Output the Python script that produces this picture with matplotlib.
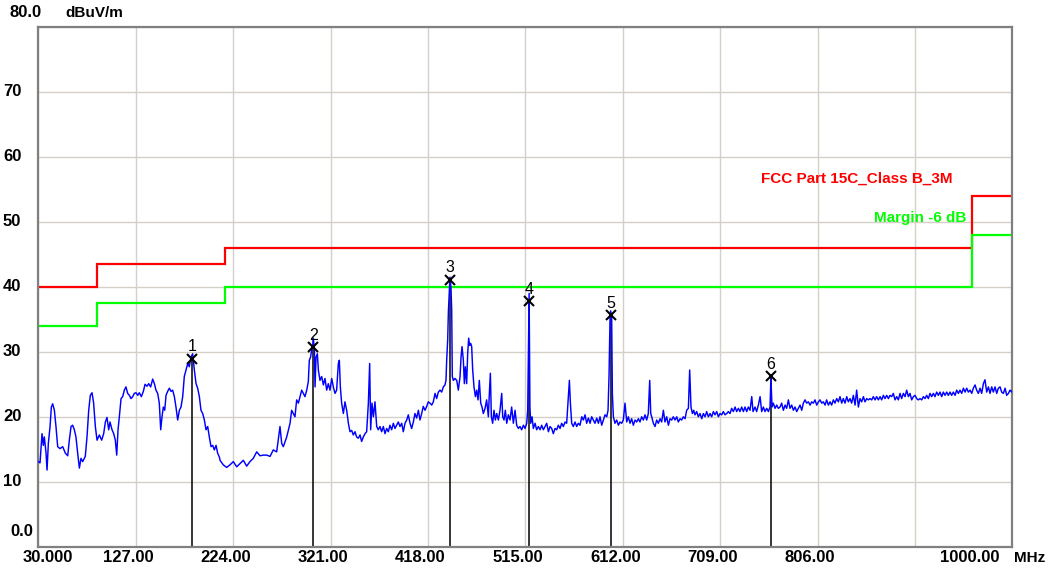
import numpy as np
import matplotlib
matplotlib.use("Agg")
import matplotlib.pyplot as plt

# ---------------------------------------------------------------
#  Radiated emission sweep, 30 MHz - 1 GHz (peak detector)
# ---------------------------------------------------------------
sweep_mhz = [
    30.0, 31.7, 33.7, 35.0, 36.0, 37.7, 38.7, 40.0, 41.7, 43.0, 44.3, 46.0, 47.6, 49.3,
    51.6, 54.3, 56.9, 59.3, 60.9, 62.6, 64.2, 65.9, 67.5, 69.2, 70.9, 72.5, 74.2, 76.8,
    78.5, 80.2, 81.8, 83.5, 85.1, 86.8, 88.5, 90.8, 93.1, 95.1, 96.8, 98.4, 100.1, 101.4,
    103.4, 105.1, 106.7, 108.1, 109.4, 110.7, 112.4, 114.0, 115.7, 117.3, 119.0, 120.7,
    122.3, 124.0, 125.6, 127.3, 129.0, 130.6, 132.6, 134.6, 136.3, 138.3, 139.9, 141.9,
    143.9, 145.6, 147.2, 148.9, 150.5, 151.9, 153.2, 154.5, 155.9, 157.2, 158.8, 160.5,
    162.2, 163.8, 165.5, 167.1, 168.8, 170.5, 172.1, 173.8, 175.4, 177.1, 178.8, 180.4,
    182.1, 183.7, 185.4, 187.1, 188.7, 190.4, 192.0, 193.7, 195.4, 197.0, 198.7, 200.3,
    202.0, 203.7, 205.3, 207.0, 208.6, 210.3, 211.0, 214.2, 217.6, 220.9, 224.2, 227.6,
    230.9, 234.2, 237.5, 240.8, 244.1, 247.5, 250.8, 254.1, 257.5, 260.8, 264.0, 267.4,
    270.7, 272.4, 274.0, 277.4, 280.7, 282.3, 285.6, 287.3, 289.0, 290.6, 292.3, 293.9,
    295.6, 297.3, 298.9, 299.9, 301.2, 302.2, 303.2, 303.9, 304.9, 305.6, 306.6, 307.9,
    308.9, 310.5, 312.2, 313.9, 315.5, 317.2, 318.8, 320.5, 322.2, 323.8, 325.5, 327.1,
    328.8, 329.8, 330.8, 332.1, 333.8, 335.4, 337.1, 338.8, 340.4, 342.1, 343.7, 345.4,
    347.0, 348.7, 350.4, 352.0, 353.7, 355.4, 357.0, 358.7, 360.0, 361.0, 362.3, 363.7,
    365.3, 367.0, 368.6, 370.3, 371.9, 373.6, 375.3, 376.9, 378.6, 380.2, 381.9, 383.6,
    385.2, 386.9, 388.5, 390.2, 391.9, 393.5, 395.2, 396.9, 398.5, 400.2, 401.8, 403.5,
    405.1, 406.8, 408.5, 410.1, 411.8, 413.4, 415.1, 416.8, 418.4, 420.1, 421.8, 423.4,
    425.1, 426.7, 428.4, 430.1, 431.7, 433.4, 435.0, 436.0, 436.7, 437.7, 438.4, 439.4,
    440.0, 441.0, 441.7, 442.3, 443.3, 445.0, 446.7, 448.3, 450.0, 451.0, 452.0, 453.3,
    454.3, 455.3, 456.6, 457.6, 458.6, 459.6, 460.6, 461.6, 462.6, 463.9, 465.3, 466.6,
    467.9, 469.2, 470.6, 471.9, 473.2, 474.9, 476.5, 478.2, 479.2, 480.2, 481.2, 482.5,
    483.8, 485.2, 486.5, 488.2, 489.8, 491.5, 492.5, 493.8, 495.1, 496.5, 498.1, 499.8,
    501.4, 503.1, 504.8, 506.4, 508.1, 509.7, 511.4, 513.1, 514.7, 516.4, 517.4, 518.8,
    519.6, 520.4, 521.7, 523.0, 524.7, 526.3, 528.0, 529.7, 531.3, 533.0, 534.6, 536.3,
    538.0, 539.6, 541.3, 542.9, 544.6, 546.3, 547.9, 549.6, 551.2, 552.9, 554.6, 556.2,
    557.5, 558.9, 559.9, 561.2, 562.8, 564.5, 566.2, 567.8, 569.5, 571.2, 572.8, 574.5,
    576.1, 577.8, 579.5, 581.1, 582.8, 584.4, 586.1, 587.8, 589.4, 591.1, 592.7, 594.4,
    596.1, 597.4, 598.4, 599.4, 600.0, 601.0, 601.7, 602.7, 604.3, 606.0, 607.7, 609.3,
    611.0, 612.6, 614.3, 616.0, 617.6, 619.3, 620.9, 622.6, 624.3, 625.9, 627.6, 629.2,
    630.9, 632.6, 634.2, 635.9, 637.5, 638.9, 639.9, 640.9, 642.5, 644.2, 645.8, 647.5,
    649.2, 650.8, 652.5, 654.1, 655.8, 657.5, 659.1, 660.8, 662.4, 664.1, 665.8, 667.4,
    669.1, 670.7, 672.4, 674.1, 675.7, 677.4, 678.7, 680.0, 681.4, 682.7, 684.0, 685.7,
    687.3, 689.0, 690.7, 692.3, 694.0, 695.6, 697.3, 699.0, 700.6, 702.3, 703.9, 705.6,
    707.3, 708.9, 710.6, 712.2, 713.9, 715.6, 717.2, 718.9, 720.5, 722.2, 723.9, 725.5,
    727.2, 728.8, 730.5, 732.2, 733.8, 735.5, 737.1, 738.8, 740.5, 741.8, 743.8, 745.4,
    747.1, 748.8, 750.4, 752.1, 753.7, 755.4, 757.1, 758.7, 759.6, 760.7, 762.0, 763.7,
    765.4, 767.0, 768.7, 770.3, 772.0, 773.7, 775.3, 777.0, 778.6, 780.3, 782.0, 783.6,
    785.3, 786.9, 788.6, 790.3, 791.9, 793.6, 795.2, 796.9, 798.6, 800.2, 801.9, 803.5,
    805.2, 806.9, 808.5, 810.2, 811.8, 813.5, 815.1, 816.8, 818.5, 820.1, 821.8, 823.4,
    825.1, 826.8, 828.4, 830.1, 831.7, 833.4, 835.1, 836.7, 838.4, 840.0, 841.7, 843.4,
    845.0, 846.7, 848.3, 850.0, 851.7, 853.3, 855.0, 856.6, 858.3, 860.0, 861.6, 863.3,
    864.9, 866.6, 868.3, 869.9, 871.6, 873.2, 874.9, 876.6, 878.2, 879.9, 881.5, 883.2,
    884.9, 886.5, 888.2, 889.8, 891.5, 893.2, 894.8, 896.5, 898.1, 899.8, 901.5, 903.1,
    904.8, 906.4, 908.1, 909.8, 911.4, 913.1, 914.7, 916.4, 918.1, 919.7, 921.4, 923.0,
    924.7, 926.4, 928.0, 929.7, 931.3, 933.0, 934.7, 936.3, 938.0, 939.6, 941.3, 943.0,
    944.6, 946.3, 947.9, 949.6, 951.3, 952.9, 954.6, 956.2, 957.9, 959.6, 961.2, 962.9,
    964.5, 966.2, 967.9, 969.5, 971.2, 972.8, 974.5, 976.2, 977.8, 979.5, 981.1, 982.8,
    984.5, 986.1, 987.8, 989.4, 991.1, 992.8, 994.4, 996.1, 997.7, 999.4, 1000.0,
]
level_dbuv = [
    13.1, 12.9, 17.4, 15.6, 16.9, 14.4, 11.8, 15.9, 18.5, 21.5, 22.0, 21.0, 18.5, 15.4,
    15.1, 15.4, 14.4, 14.0, 16.4, 18.5, 18.7, 18.0, 16.9, 14.4, 12.1, 13.6, 13.1, 13.9,
    16.9, 21.0, 23.3, 23.7, 22.1, 18.5, 16.4, 17.2, 16.4, 17.4, 19.2, 19.9, 18.0, 19.2,
    18.0, 17.4, 16.4, 14.1, 18.0, 20.0, 22.8, 23.1, 24.1, 24.6, 23.6, 23.3,
    22.8, 23.1, 23.6, 23.7, 23.3, 23.7, 23.1, 23.9, 25.0, 24.7, 25.1, 24.6,
    25.8, 25.1, 24.1, 23.6, 22.1, 18.0, 20.0, 21.5, 21.0, 23.3, 23.9, 24.4,
    23.9, 24.1, 23.1, 21.5, 19.5, 21.0, 21.5, 23.1, 26.2, 27.2, 28.2, 27.7,
    29.2, 29.7, 27.2, 25.1, 24.4, 23.1, 21.0, 20.5, 19.5, 18.0, 18.5, 16.9,
    15.4, 15.6, 14.9, 15.6, 14.4, 13.8, 13.3, 12.6, 12.2, 12.6, 13.1, 12.3,
    12.8, 13.3, 12.4, 13.1, 13.6, 14.6, 14.0, 14.1, 14.1, 13.9, 14.9, 14.6,
    18.5, 15.9, 15.4, 16.9, 19.0, 21.0, 20.0, 22.6, 22.1, 23.1, 24.1, 23.6,
    23.1, 24.1, 25.4, 28.7, 29.2, 30.3, 30.8, 32.1, 30.3, 24.6, 29.2, 29.7,
    27.2, 25.6, 26.2, 24.9, 25.9, 24.1, 25.1, 24.1, 25.9, 24.6, 23.6, 24.1,
    28.2, 28.7, 24.6, 22.1, 20.5, 22.3, 21.0, 19.0, 17.7, 17.9, 17.2, 17.7,
    16.9, 16.7, 17.2, 16.2, 16.9, 17.4, 17.7, 22.1, 28.2, 18.0, 22.1, 20.0,
    22.3, 18.5, 18.0, 18.5, 17.7, 18.5, 17.4, 18.2, 17.7, 18.7, 18.0, 19.0,
    18.2, 18.7, 19.2, 18.5, 19.0, 17.7, 19.0, 19.5, 20.3, 19.0, 18.2, 19.2,
    20.5, 19.8, 21.0, 19.5, 20.5, 21.6, 21.0, 21.6, 22.3, 22.1, 21.8, 22.3,
    23.6, 22.8, 23.8, 24.1, 23.8, 24.6, 24.9, 25.6, 28.7, 31.8, 36.2, 39.5,
    41.5, 39.8, 36.4, 26.2, 25.6, 25.9, 25.6, 24.1, 26.2, 29.2, 30.8, 28.7,
    25.1, 27.7, 25.1, 29.7, 32.1, 31.0, 31.3, 30.8, 27.2, 24.6, 23.1, 24.1,
    22.6, 25.6, 22.1, 21.5, 20.5, 21.3, 22.6, 20.0, 23.6, 26.7, 20.0, 19.0,
    21.0, 19.5, 20.5, 19.5, 21.0, 23.6, 20.0, 19.5, 21.0, 19.0, 20.3, 19.5,
    21.5, 19.0, 21.0, 18.7, 18.2, 18.5, 18.0, 18.7, 18.2, 19.0, 21.0, 39.0,
    21.5, 19.0, 20.0, 18.2, 19.0, 18.0, 18.5, 18.0, 18.7, 18.0, 18.5, 19.0,
    17.7, 18.5, 18.2, 17.4, 18.2, 18.0, 18.7, 18.2, 19.0, 18.5, 19.2, 19.0,
    22.1, 25.6, 22.1, 19.0, 18.5, 19.2, 18.5, 19.0, 18.7, 20.0, 19.5, 20.3,
    19.0, 19.8, 19.0, 20.0, 19.5, 19.0, 19.8, 19.0, 20.0, 18.7, 19.5, 20.3,
    20.0, 21.0, 26.4, 35.4, 36.3, 35.4, 23.6, 20.0, 19.0, 19.5, 18.7, 19.2,
    19.0, 19.5, 22.1, 19.2, 20.0, 19.0, 19.7, 18.7, 19.5, 19.2, 19.7, 19.2,
    20.0, 19.5, 20.3, 19.5, 20.5, 25.6, 20.5, 20.0, 19.0, 18.5, 19.5, 19.0,
    19.7, 19.2, 21.0, 19.2, 20.0, 18.7, 19.7, 19.5, 20.0, 19.5, 20.0, 19.2,
    19.7, 19.5, 20.0, 19.7, 21.0, 21.3, 27.2, 21.5, 20.5, 21.0, 20.3, 20.8,
    20.0, 20.5, 19.7, 20.5, 20.0, 20.8, 20.0, 20.5, 20.0, 20.8, 20.3, 20.8,
    20.0, 20.5, 20.3, 20.8, 20.3, 20.5, 20.8, 20.5, 21.3, 20.8, 21.5, 20.8,
    21.3, 20.8, 21.5, 20.8, 21.5, 20.8, 21.5, 21.0, 23.1, 20.8, 21.5, 20.8,
    21.8, 23.1, 20.8, 21.5, 20.8, 21.3, 20.8, 21.5, 26.0, 21.5, 22.1, 21.3,
    21.8, 21.3, 21.5, 22.1, 21.0, 21.8, 21.3, 22.6, 21.3, 21.8, 21.0, 21.5,
    20.8, 21.3, 21.8, 21.0, 22.1, 22.6, 22.1, 22.3, 21.8, 22.3, 22.1, 22.6,
    21.8, 22.3, 22.6, 22.1, 22.3, 21.8, 22.6, 21.8, 22.3, 21.8, 22.6, 22.1,
    22.8, 22.3, 23.1, 22.1, 22.8, 22.1, 23.1, 22.3, 22.8, 22.1, 23.3, 21.8,
    24.1, 21.5, 22.8, 22.3, 23.1, 22.3, 22.8, 22.6, 22.8, 22.6, 23.1, 22.6,
    23.1, 22.6, 23.1, 22.6, 23.3, 22.8, 23.3, 22.8, 23.3, 23.1, 23.6, 22.6,
    23.1, 22.6, 23.6, 22.8, 23.6, 23.1, 24.1, 23.1, 23.6, 22.6, 23.1, 23.3,
    22.8, 22.6, 22.8, 22.6, 23.1, 22.8, 23.3, 22.8, 23.6, 23.1, 23.6, 23.1,
    23.8, 23.3, 23.8, 23.1, 23.8, 23.3, 23.8, 23.3, 23.8, 23.3, 23.8, 23.3,
    24.1, 23.6, 24.1, 23.6, 24.4, 23.8, 24.4, 23.8, 24.1, 23.6, 24.4, 24.9,
    24.1, 23.6, 24.4, 23.6, 25.1, 25.7, 23.8, 24.6, 23.6, 24.6, 23.8, 24.6,
    23.6, 24.4, 24.6, 23.8, 23.6, 24.4, 23.3, 23.6, 24.1, 23.8, 24.0,
]

# FCC Part 15C Class B limit at 3 m
limit_edges_mhz = [30, 88, 216, 960, 1000]
limit_dbuv = [40.0, 43.5, 46.0, 54.0]
margin_db = -6.0

# marker table
marker_ids = ["1", "2", "3", "4", "5", "6"]
marker_mhz = [182.8, 303.8, 440.0, 518.8, 600.0, 759.6]
marker_dbuv = [28.9, 30.7, 41.1, 37.8, 35.6, 26.2]

freq_ticks = [30, 127, 224, 321, 418, 515, 612, 709, 806, 903, 1000]
freq_tick_labels = ["30.000", "127.00", "224.00", "321.00", "418.00", "515.00",
                    "612.00", "709.00", "806.00", "", "1000.00"]
level_ticks = [0, 10, 20, 30, 40, 50, 60, 70, 80]
level_tick_labels = ["0.0", "10", "20", "30", "40", "50", "60", "70", "80.0"]

FONT = ["Liberation Sans", "DejaVu Sans"]
RED = "#ff0000"
GREEN = "#00ff00"
BLUE = "#0000ff"
NUM_SIZE = 12     # numeric axis labels
TXT_SIZE = 11

fig = plt.figure(figsize=(10.48, 5.69), dpi=100)
ax = fig.add_axes([0.03655, 0.03919, 0.92939, 0.91336])
ax.set_xlim(freq_ticks[0], freq_ticks[-1])
ax.set_ylim(level_ticks[0], level_ticks[-1])
ax.set_xticks(freq_ticks)
ax.set_yticks(level_ticks)
ax.grid(True, color="#d4d0c8", linewidth=1.0, zorder=0)
ax.set_axisbelow(True)
ax.tick_params(length=0, labelbottom=False, labelleft=False)
for sp in ax.spines.values():
    sp.set_color("#808080")
    sp.set_linewidth(1.6)

# limit and margin lines
limit = np.array(limit_dbuv)
ax.stairs(limit, limit_edges_mhz, baseline=None, color=RED, linewidth=1.6, zorder=2)
ax.stairs(limit + margin_db, limit_edges_mhz, baseline=None, color=GREEN,
          linewidth=1.6, zorder=2)

# marker drop lines sit under the trace
ax.vlines(marker_mhz, 0, marker_dbuv, color="black", linewidth=1.1, zorder=2.5)

ax.plot(sweep_mhz, level_dbuv, color=BLUE, linewidth=1.05, zorder=3)

ax.plot(marker_mhz, marker_dbuv, linestyle="none", marker="x", color="black",
        markersize=7.5, markeredgewidth=1.5, zorder=4)
for mid, f, v in zip(marker_ids, marker_mhz, marker_dbuv):
    ax.annotate(mid, xy=(f, v), xytext=(0, 12), textcoords="offset pixels",
                ha="center", va="center", fontsize=11.5, family=FONT, zorder=5)

ax.text(940, 56.6, "FCC Part 15C_Class B_3M", color=RED, ha="right", va="center",
        fontsize=TXT_SIZE, fontweight="bold", family=FONT)
ax.text(954, 50.6, "Margin -6 dB", color=GREEN, ha="right", va="center",
        fontsize=TXT_SIZE, fontweight="bold", family=FONT)

# frequency labels, drawn a little left of their grid line
for i, (f, lbl) in enumerate(zip(freq_ticks, freq_tick_labels)):
    dx = -7.5
    if i == 0:
        dx = 10
    elif i == len(freq_ticks) - 1:
        dx = -43
    ax.annotate(lbl, xy=(f, 0), xytext=(dx, -11), textcoords="offset pixels",
                ha="center", va="center", fontsize=NUM_SIZE, fontweight="bold",
                family=FONT, annotation_clip=False)
ax.annotate("MHz", xy=(freq_ticks[-1], 0), xytext=(2, -11), textcoords="offset pixels",
            ha="left", va="center", fontsize=TXT_SIZE, fontweight="bold", family=FONT,
            annotation_clip=False)

# level labels at the left edge of the window
for v, lbl in zip(level_ticks, level_tick_labels):
    x_px, dy = 3, 0
    if v == level_ticks[0]:
        x_px, dy = 10, 15
    elif v == level_ticks[-1]:
        x_px, dy = 10, 14
    ax.annotate(lbl, xy=(x_px, v), xycoords=("figure pixels", "data"),
                xytext=(0, dy), textcoords="offset pixels", ha="left", va="center",
                fontsize=NUM_SIZE, fontweight="bold", family=FONT, annotation_clip=False)
ax.annotate("dBuV/m", xy=(65, level_ticks[-1]), xycoords=("figure pixels", "data"),
            xytext=(0, 14), textcoords="offset pixels", ha="left", va="center",
            fontsize=TXT_SIZE, fontweight="bold", family=FONT, annotation_clip=False)

fig.savefig("out.png", dpi=100, facecolor="white")
